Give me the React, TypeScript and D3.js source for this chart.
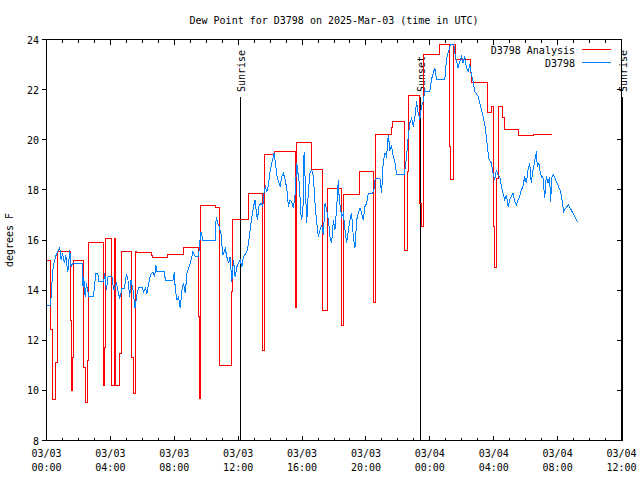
import React from "react";
import * as d3 from "d3";

const START = Date.UTC(2025, 2, 3, 0, 0);
const SPAN_HOURS = 36;

// D3798 Analysis (step series): hours after 03/03 00:00 UTC, degrees F
const analysisHours = [
  0.04, 0.25, 0.35, 0.58, 0.67, 0.71, 1.5, 1.56, 1.625, 1.71, 2.33, 2.44, 2.58, 2.65,
  3.54, 3.58, 3.65, 3.71, 4.04, 4.08, 4.25, 4.31, 4.58, 4.67, 5.35, 5.42, 5.56, 5.6,
  5.65, 6.56, 6.65, 7.6, 8.58, 9.52, 9.58, 9.625, 9.67, 10.6, 10.83, 11.6, 11.67,
  12.65, 13.54, 13.625, 14.27, 15.56, 15.6, 15.65, 16.6, 17.29, 17.58, 18.48, 18.58,
  19.58, 20.5, 20.58, 21.6, 21.67, 22.44, 22.58, 22.65, 23.375, 23.5, 23.625, 24.58,
  25.21, 25.29, 25.46, 25.625, 26.56, 26.625, 27.625, 27.85, 27.96, 28.06, 28.19,
  28.33, 28.58, 28.65, 29.58, 30.46, 31.67,
];
const analysisValues = [
  15.2, 12.43, 9.63, 11.1, 14.03, 15.56, 12.8, 10.0, 11.33, 15.2, 10.93, 9.52, 11.2, 15.9,
  13.57, 10.2, 11.7, 16.07, 13.57, 10.2, 16.07, 10.2, 11.47, 15.56, 11.33, 9.89, 12.93, 15.56,
  15.51, 15.39, 15.31, 15.44, 15.71, 12.93, 9.67, 13.5, 17.36, 17.28, 11.0, 13.93, 16.83,
  17.87, 11.6, 19.4, 19.53, 16.53, 13.3, 19.9, 18.8, 13.2, 18.07, 12.6, 17.8,
  18.73, 13.5, 20.2, 20.47, 20.73, 15.6, 18.73, 21.76, 17.47, 16.53, 23.4, 23.8,
  19.73, 18.4, 23.8, 23.2, 22.67, 22.27, 21.07, 21.33, 16.53, 14.9, 18.47,
  21.33, 20.87, 20.4, 20.16, 20.2, 20.2,
];

// D3798 observations
const obsHours = [
  0.04, 0.25, 0.36, 0.42, 0.56, 0.83, 0.92, 1.0, 1.125, 1.21, 1.29, 1.33, 1.46, 1.54, 1.625,
  2.23, 2.29, 2.33, 2.42, 2.5, 2.65, 2.92, 3.0, 3.08, 3.21, 3.29, 3.58, 3.65, 3.75, 3.85,
  4.1, 4.21, 4.375, 4.58, 4.73, 4.875, 5.0, 5.08, 5.21, 5.29, 5.42, 5.54, 5.67, 5.79, 5.98,
  6.08, 6.19, 6.29, 6.4, 6.5, 6.67, 6.77, 6.85, 6.92, 7.375, 7.44, 7.92, 8.0, 8.06, 8.17,
  8.27, 8.375, 8.48, 8.58, 8.69, 8.79, 9.0, 9.17, 9.31, 9.52, 9.58, 9.67, 9.79, 10.56,
  10.625, 10.71, 10.81, 10.92, 11.04, 11.19, 11.29, 11.4, 11.5, 11.6, 11.71, 11.81, 11.92,
  12.02, 12.125, 12.23, 12.33, 12.54, 12.65, 12.75, 12.86, 12.96, 13.06, 13.125, 13.21,
  13.29, 13.42, 13.54, 13.625, 13.71, 13.79, 13.9, 13.96, 14.1, 14.25, 14.31, 14.42, 14.52,
  14.625, 14.73, 14.83, 14.94, 15.04, 15.15, 15.25, 15.35, 15.46, 15.56, 15.67, 15.77,
  15.83, 15.92, 15.98, 16.08, 16.125, 16.21, 16.29, 16.4, 16.5, 16.6, 16.71, 16.81, 16.92,
  17.02, 17.125, 17.23, 17.33, 17.44, 17.54, 17.65, 17.75, 17.85, 17.96, 18.06, 18.17,
  18.27, 18.33, 18.48, 18.58, 18.69, 18.79, 18.9, 19.0, 19.1, 19.21, 19.31, 19.42, 19.52,
  19.625, 19.73, 19.83, 19.94, 20.04, 20.15, 20.42, 20.5, 20.56, 20.67, 20.875, 20.98,
  21.08, 21.19, 21.29, 21.4, 21.5, 21.6, 21.71, 21.81, 21.92, 22.4, 22.54, 22.65, 22.75,
  22.86, 22.96, 23.06, 23.17, 23.27, 23.375, 23.48, 23.58, 23.69, 24.0, 24.1, 24.31, 24.42,
  24.94, 25.0, 25.1, 25.21, 25.29, 25.5, 25.56, 25.67, 25.77, 25.875, 25.98, 26.08, 26.19,
  26.29, 26.4, 26.5, 26.6, 26.71, 26.81, 27.02, 27.125, 27.23, 27.33, 27.44, 27.54, 27.6,
  27.71, 27.85, 27.96, 28.06, 28.17, 28.27, 28.375, 28.48, 28.58, 28.69, 28.79, 28.9, 29.0,
  29.1, 29.21, 29.31, 29.42, 29.52, 29.625, 29.73, 29.83, 29.94, 30.04, 30.15, 30.25, 30.35,
  30.46, 30.56, 30.67, 30.73, 30.83, 30.92, 31.02, 31.08, 31.19, 31.29, 31.4, 31.5, 31.56,
  31.65, 31.75, 31.92, 32.06, 32.19, 32.29, 32.375, 32.5, 32.69, 32.85, 33.06, 33.23,
];
const obsValues = [
  13.37, 13.37, 14.47, 14.93, 15.33, 15.71, 15.2, 15.47, 15.07, 15.4, 14.93, 14.71, 15.6, 14.93, 15.07,
  15.07, 14.13, 14.53, 13.73, 14.27, 13.73, 13.73, 14.07, 14.67, 14.67, 14.33, 14.33, 14.67, 14.0, 14.53,
  14.53, 14.0, 14.27, 13.67, 14.07, 14.07, 14.6, 14.53, 13.73, 14.4, 14.0, 13.27, 13.87, 14.11, 14.11,
  13.93, 14.07, 13.87, 14.27, 14.6, 14.73, 14.53, 15.0, 14.73, 14.73, 14.4, 14.4, 14.73, 14.07, 13.6,
  13.73, 13.27, 14.0, 14.27, 13.87, 14.67, 15.07, 15.53, 15.33, 15.33, 15.8, 16.33, 16.0, 16.0,
  16.93, 16.67, 16.53, 16.27, 15.4, 15.67, 15.33, 15.07, 15.33, 14.33, 15.2, 14.53, 14.93,
  15.07, 15.2, 14.93, 15.33, 15.53, 15.87, 16.4, 16.93, 17.33, 17.6, 17.2, 16.8,
  17.33, 17.47, 17.33, 17.93, 18.13, 17.93, 18.2, 18.6, 19.07, 19.47, 19.2, 18.6, 18.33,
  18.13, 18.53, 18.67, 18.4, 18.07, 17.33, 17.6, 17.53, 17.27, 17.8, 19.07, 18.53,
  18.27, 17.07, 16.8, 17.47, 19.53, 18.13, 16.67, 18.0, 18.67, 18.8, 18.53, 17.47, 16.67,
  16.13, 16.4, 16.6, 16.2, 17.47, 17.2, 16.8, 16.13, 15.87, 16.8, 16.4, 17.33,
  18.4, 17.6, 16.93, 17.07, 16.4, 15.87, 16.4, 16.8, 17.07, 16.13, 15.67, 16.8, 17.07,
  17.27, 17.07, 16.8, 17.33, 17.47, 17.87, 17.87, 18.0, 18.4, 18.47, 18.47, 17.87,
  19.07, 19.47, 19.33, 20.2, 19.6, 19.73, 19.33, 19.13, 18.6, 18.6, 19.33, 20.13, 20.67,
  20.87, 20.53, 20.87, 21.53, 21.07, 20.8, 21.33, 21.53, 21.93, 21.93, 22.4, 22.87, 22.4,
  22.4, 22.93, 23.4, 23.6, 23.8, 23.8, 23.47, 23.13, 22.87, 23.13, 23.33, 23.07, 23.33,
  22.87, 22.73, 23.0, 22.6, 22.33, 21.93, 21.73, 21.47, 21.2, 20.93, 20.6, 20.13, 19.73,
  19.2, 19.07, 18.67, 18.4, 18.8, 18.6, 18.53, 18.13, 17.87, 17.6, 17.8, 17.33, 17.6,
  17.73, 17.87, 17.53, 17.4, 17.6, 17.73, 18.0, 18.13, 18.53, 18.27, 18.8, 19.07, 18.27,
  18.8, 19.13, 19.53, 18.93, 19.07, 18.67, 18.47, 18.53, 17.67, 18.53, 18.27, 18.53, 17.53,
  18.53, 18.6, 18.33, 18.13, 17.93, 17.53, 17.13, 17.27, 17.4, 17.2, 16.96, 16.73,
];

const sunEventHours = [12.13, 23.41, 36.08];
const sunEventLabels = ["Sunrise", "Sunset", "Sunrise"];
const yTickValues = [8, 10, 12, 14, 16, 18, 20, 22, 24];
const titleText = "Dew Point for D3798 on 2025-Mar-03 (time in UTC)";
const yAxisLabel = "degrees F";
const seriesNames = ["D3798 Analysis", "D3798"];
const seriesColors = ["#ff0000", "#0080ff"];

const FONT = "'DejaVu Sans Mono', 'Liberation Mono', monospace";

type Pt = { t: Date; v: number };

export default function App() {
  const L = 46.5, R = 621.5, T = 39.5, B = 440.5;
  const toDate = (h: number) => new Date(START + h * 3600e3);
  const x = d3.scaleUtc().domain([toDate(0), toDate(SPAN_HOURS)]).range([L, R]);
  const y = d3.scaleLinear().domain([8, 24]).range([B, T]);

  const analysis: Pt[] = analysisHours.map((h, i) => ({ t: toDate(h), v: analysisValues[i] }));
  const obs: Pt[] = obsHours.map((h, i) => ({ t: toDate(h), v: obsValues[i] }));

  const stepLine = d3.line<Pt>().x((d) => x(d.t)).y((d) => y(d.v)).curve(d3.curveStepAfter);
  const linLine = d3.line<Pt>().x((d) => x(d.t)).y((d) => y(d.v));

  const hourTicks = x.ticks(d3.utcHour.every(1)!);
  const majorTicks = x.ticks(d3.utcHour.every(4)!);
  const fmtDate = d3.utcFormat("%m/%d");
  const fmtTime = d3.utcFormat("%H:%M");

  const textStyle: React.CSSProperties = { fontFamily: FONT, fontSize: 10, fill: "#000" };

  return (
    <svg
      width={640}
      height={480}
      style={{ position: "absolute", left: 0, top: 0, background: "#fff" }}
    >
      <rect x={0} y={0} width={640} height={480} fill="#fff" />
      {/* title */}
      <text x={(L + R) / 2} y={24} textAnchor="middle" style={textStyle}>
        {titleText}
      </text>
      {/* y label */}
      <text
        transform={`translate(13,240) rotate(-90)`}
        textAnchor="middle"
        style={textStyle}
      >
        {yAxisLabel}
      </text>

      {/* y ticks and labels */}
      <g shapeRendering="crispEdges" stroke="#000" strokeWidth={1}>
        {yTickValues.map((v) => (
          <g key={v}>
            <line x1={L - 5} x2={L} y1={Math.round(y(v) - 0.5) + 0.5} y2={Math.round(y(v) - 0.5) + 0.5} />
            <line x1={R - 5} x2={R} y1={Math.round(y(v) - 0.5) + 0.5} y2={Math.round(y(v) - 0.5) + 0.5} />
          </g>
        ))}
        {hourTicks.map((t) => {
          const isMajor = majorTicks.some((m) => +m === +t);
          const xx = Math.round(x(t) - 0.5) + 0.5;
          const len = isMajor ? 5 : 3;
          return (
            <g key={+t}>
              <line x1={xx} x2={xx} y1={B} y2={B - len} />
              <line x1={xx} x2={xx} y1={T} y2={T + len} />
            </g>
          );
        })}
      </g>
      {yTickValues.map((v) => (
        <text key={v} x={39} y={y(v) + 4} textAnchor="end" style={textStyle}>
          {v}
        </text>
      ))}
      {majorTicks.map((t) => (
        <g key={+t}>
          <text x={x(t)} y={457} textAnchor="middle" style={textStyle}>
            {fmtDate(t)}
          </text>
          <text x={x(t)} y={471} textAnchor="middle" style={textStyle}>
            {fmtTime(t)}
          </text>
        </g>
      ))}

      {/* sunrise / sunset markers */}
      {sunEventHours.map((h, i) => {
        const xx = Math.round(x(toDate(h)) - 0.5) + 0.5;
        return (
          <g key={i}>
            <line
              x1={xx}
              x2={xx}
              y1={97}
              y2={B}
              stroke="#000"
              strokeWidth={1}
              shapeRendering="crispEdges"
            />
            <text
              transform={`translate(${xx + 4},92) rotate(-90)`}
              textAnchor="start"
              style={textStyle}
            >
              {sunEventLabels[i]}
            </text>
          </g>
        );
      })}

      {/* series */}
      <path
        d={stepLine(analysis) || ""}
        fill="none"
        stroke={seriesColors[0]}
        strokeWidth={1}
        shapeRendering="crispEdges"
      />
      <path
        d={linLine(obs) || ""}
        fill="none"
        stroke={seriesColors[1]}
        strokeWidth={1}
        shapeRendering="crispEdges"
      />

      {/* frame */}
      <rect
        x={L}
        y={T}
        width={R - L}
        height={B - T}
        fill="none"
        stroke="#000"
        strokeWidth={1}
        shapeRendering="crispEdges"
      />

      {/* legend */}
      {seriesNames.map((name, i) => (
        <g key={name}>
          <text x={575} y={54 + i * 13} textAnchor="end" style={textStyle}>
            {name}
          </text>
          <line
            x1={582}
            x2={611}
            y1={49.5 + i * 13}
            y2={49.5 + i * 13}
            stroke={seriesColors[i]}
            strokeWidth={1}
            shapeRendering="crispEdges"
          />
        </g>
      ))}
    </svg>
  );
}
